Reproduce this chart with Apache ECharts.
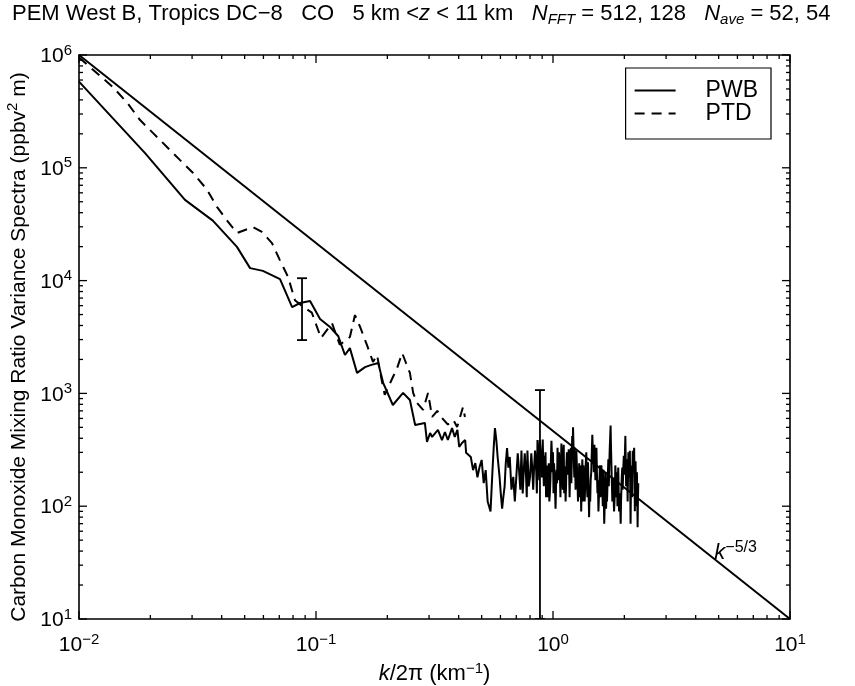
<!DOCTYPE html>
<html><head><meta charset="utf-8">
<script src="https://cdn.jsdelivr.net/npm/echarts@6/dist/echarts.min.js"></script>
<style>html,body{margin:0;padding:0;background:#fff}#c{width:855px;height:686px}</style>
</head><body><div id="c"></div>
<script>
const FONT = "'Liberation Sans', Arial, Helvetica, sans-serif";

// PWB spectrum [k/2pi (km^-1), spectral density]
const pwb = [
 [0.0100,580000],[0.0190,135000],[0.0280,52000],[0.0367,34000],[0.0464,19900],[0.0527,12900],
 [0.0597,12200],[0.0705,10300],[0.0793,5830],[0.0856,6330],[0.0944,6600],[0.1040,4570],
 [0.1146,3880],[0.1240,3230],[0.1325,2190],[0.1390,2520],[0.1490,1520],[0.1610,1710],
 [0.1700,1780],[0.1830,1860],[0.1920,1240],[0.2110,789],[0.2330,1010],[0.2490,873],
 [0.2620,525],[0.2880,547],[0.2940,371],[0.3030,446],[0.3090,411],[0.3270,474],
 [0.3400,386],[0.3500,455],[0.3600,386],[0.3750,493],[0.3850,411],[0.3950,474],
 [0.4020,335],[0.4130,363],[0.4260,386],[0.4300,297],[0.4500,273],[0.4600,209],
 [0.4700,241],[0.4800,180],[0.4900,223],[0.5000,257],[0.5100,160],[0.5200,209],[0.5300,110],[0.5450,90],
 [0.5550,200],[0.5620,330],[0.5690,493],[0.5770,380],[0.5840,273],[0.5950,182],[0.6020,130],[0.6100,95],[0.6170,120],[0.6250,150],
 [0.6320,240],[0.6400,328],[0.6480,220],[0.6570,273],[0.6680,140],[0.6800,182],[0.6900,110],[0.7000,180],[0.7100,295],
 [0.7200,200],[0.7280,140],[0.7360,312],[0.7450,130],[0.7520,200],[0.7600,295],[0.7700,180],[0.7750,120],[0.7800,312],
 [0.7900,150],[0.8000,182],[0.8100,295],[0.8180,210],[0.8250,140],[0.8320,220],[0.8400,312],[0.8500,200],
 [0.8550,130],[0.8600,386],[0.8700,250],[0.8750,170],[0.8800,386],
 [0.890,260],[0.8975,180],[0.905,390],[0.910,230],[0.915,150],[0.920,280],[0.925,185],[0.930,300],
 [0.935,120],[0.940,160],[0.945,230],[0.950,120],[0.955,165],[0.960,240],[0.965,110],[0.970,130],
 [0.975,170],[0.980,260],[0.985,380],[0.990,280],[0.995,200],[1.000,300],[1.005,130],[1.010,240],
 [1.015,185],[1.020,140],[1.025,95],[1.030,150],[1.035,210],[1.040,160],[1.045,330],[1.050,220],
 [1.055,170],[1.060,300],[1.065,250],[1.070,180],[1.075,120],[1.080,200],[1.085,360],[1.090,280],
 [1.095,190],[1.100,140],[1.105,280],[1.110,350],[1.115,130],[1.120,170],[1.125,225],[1.130,110],
 [1.135,150],[1.140,240],[1.145,300],[1.150,210],[1.155,190],[1.160,260],[1.165,320],[1.170,200],
 [1.175,120],[1.180,190],[1.185,260],[1.190,330],[1.195,160],[1.200,250],[1.205,420],[1.210,300],
 [1.215,500],[1.220,350],[1.225,240],[1.230,180],[1.235,330],[1.240,260],[1.245,140],[1.250,200],
 [1.255,310],[1.260,240],[1.265,200],[1.270,150],[1.275,110],[1.280,140],[1.285,180],[1.290,240],
 [1.295,120],[1.300,160],[1.305,230],[1.310,150],[1.315,90],[1.320,130],[1.325,200],[1.330,260],
 [1.335,150],[1.340,110],[1.345,230],[1.352,170],[1.360,110],[1.367,150],[1.375,240],[1.382,300],
 [1.390,160],[1.397,120],[1.405,245],[1.412,150],[1.420,80],[1.427,140],[1.435,110],[1.442,170],
 [1.450,200],[1.457,290],[1.465,430],[1.472,330],[1.480,280],[1.487,200],[1.495,350],[1.502,260],
 [1.510,170],[1.517,240],[1.525,330],[1.532,200],[1.540,130],[1.547,170],[1.555,90],[1.562,120],
 [1.570,165],[1.577,230],[1.585,120],[1.592,150],[1.600,230],[1.607,180],[1.615,140],[1.622,100],
 [1.630,210],[1.637,130],[1.645,70],[1.652,100],[1.660,140],[1.667,200],[1.675,95],[1.682,140],
 [1.690,110],[1.697,150],[1.705,200],[1.712,260],[1.720,150],[1.727,220],[1.735,320],[1.742,400],
 [1.750,520],[1.757,330],[1.765,220],[1.772,160],[1.780,110],[1.787,140],[1.795,180],[1.802,120],
 [1.810,90],[1.817,110],[1.825,140],[1.832,230],[1.840,190],[1.847,120],[1.855,160],[1.862,200],
 [1.870,100],[1.877,150],[1.885,220],[1.892,140],[1.900,90],[1.907,110],[1.915,130],[1.922,100],
 [1.930,70],[1.937,110],[1.945,150],[1.952,190],[1.960,220],[1.967,140],[1.975,180],[1.982,230],
 [1.990,280],[1.997,220],[2.005,190],[2.012,300],[2.020,420],[2.027,250],[2.035,150],[2.042,200],
 [2.050,260],[2.057,180],[2.065,110],[2.072,180],[2.080,300],[2.087,230],[2.095,180],[2.102,250],
 [2.110,310],[2.117,150],[2.125,70],[2.132,140],[2.140,230],[2.147,160],[2.155,120],[2.162,200],
 [2.170,310],[2.177,200],[2.185,250],[2.192,290],[2.200,330],[2.207,180],[2.215,90],[2.222,150],
 [2.230,250],[2.237,170],[2.245,100],[2.252,140],[2.260,200],[2.267,120],[2.275,65],[2.282,110],
 [2.290,160]
];

// PTD spectrum
const ptd = [
 [0.0100,950000],[0.0139,520000],[0.0160,375000],[0.0181,265000],[0.0205,204000],
 [0.0235,153000],[0.0267,117000],[0.0303,90000],[0.0347,64000],[0.0382,45000],
 [0.0420,34400],[0.0464,26400],[0.0542,29900],[0.0591,27000],[0.0652,21500],
 [0.0704,15200],[0.0762,10800],[0.0815,6700],[0.0873,5960],[0.0960,5200],
 [0.1050,3100],[0.1168,4200],[0.1260,2700],[0.1390,3160],[0.1460,4950],
 [0.1535,3880],[0.1640,2690],[0.1740,1900],[0.1810,2190],[0.1900,1260],
 [0.1950,970],[0.2060,1250],[0.2200,1680],[0.2310,2280],[0.2400,1850],
 [0.2490,1520],[0.2570,1010],[0.2670,822],[0.2830,713],[0.2970,1010],
 [0.3090,618],[0.3250,700],[0.3400,605],[0.3600,530],[0.3800,580],
 [0.3940,503],[0.4170,757],[0.4250,618]
];

// k^-5/3 reference line end points
const refLine = [[0.01, 1e6], [10, 10]];
const refLabelAt = [[4.7, 35]];

// error bars [k, low, high]
const errBars = [[0.0873, 2970, 10500], [0.881, 10, 1070]];

// axis ticks
const xMajorTicks = [0.01, 0.1, 1, 10];
const xMinorTicks = [0.02,0.03,0.04,0.05,0.06,0.07,0.08,0.09,0.2,0.3,0.4,0.5,0.6,0.7,0.8,0.9,2,3,4,5,6,7,8,9];
const yMajorTicks = [10, 100, 1000, 10000, 100000, 1000000];
const yMinorTicks = [20,30,40,50,60,70,80,90,200,300,400,500,600,700,800,900,
  2000,3000,4000,5000,6000,7000,8000,9000,20000,30000,40000,50000,60000,70000,80000,90000,
  200000,300000,400000,500000,600000,700000,800000,900000];

const seriesNames = ['PWB', 'PTD'];

function supLabel(v) {
  const e = Math.round(Math.log10(v));
  return '{b|10}{s|' + (e < 0 ? '\u2212' + (-e) : e) + '}';
}

const tickRich = {
  b: { fontSize: 21, lineHeight: 24, verticalAlign: 'bottom', fontFamily: FONT, color: '#000' },
  s: { fontSize: 15, lineHeight: 9, verticalAlign: 'top', fontFamily: FONT, color: '#000' }
};

const xTickData = xMajorTicks.map(v => [v, 100, 1]).concat(xMinorTicks.map(v => [v, 100, 0]));
const yTickData = yMajorTicks.map(v => [1, v, 1]).concat(yMinorTicks.map(v => [1, v, 0]));

const chart = echarts.init(document.getElementById('c'), null, { renderer: 'canvas' });
chart.setOption({
  animation: false,
  backgroundColor: '#fff',
  textStyle: { fontFamily: FONT, color: '#000' },
  title: {
    left: 7, top: -2,
    text: '{n|PEM West B, Tropics DC\u22128   CO   5 km <}{i|z}{n| < 11 km   }{i|N}{sub|FFT}{n| = 512, 128   }{i|N}{sub|ave}{n| = 52, 54}',
    textStyle: {
      fontSize: 22, fontWeight: 'normal', fontFamily: FONT, color: '#000',
      rich: {
        n: { fontSize: 22, lineHeight: 24, verticalAlign: 'top', fontFamily: FONT, color: '#000' },
        i: { fontSize: 22, lineHeight: 24, verticalAlign: 'top', fontStyle: 'italic', fontFamily: FONT, color: '#000' },
        sub: { fontSize: 15, lineHeight: 8, verticalAlign: 'bottom', fontStyle: 'italic', fontFamily: FONT, color: '#000' }
      }
    }
  },
  legend: {
    data: seriesNames,
    orient: 'vertical', align: 'left',
    right: 84, top: 68,
    padding: [11, 13, 14, 8],
    itemWidth: 41, itemHeight: 14, itemGap: 0,
    backgroundColor: '#fff',
    borderColor: '#000', borderWidth: 1.2, borderRadius: 0,
    itemStyle: { opacity: 0 },
    textStyle: { fontSize: 23, fontFamily: FONT, color: '#000', padding: [0, 0, 0, 25] }
  },
  grid: {
    left: 79, right: 65, top: 55, bottom: 67, outerBoundsMode: 'none', containLabel: false,
    show: true, borderColor: '#000', borderWidth: 1.6, backgroundColor: 'transparent'
  },
  xAxis: {
    type: 'log', logBase: 10, min: 0.01, max: 10,
    axisLine: { show: false }, axisTick: { show: false }, splitLine: { show: false },
    axisLabel: { formatter: supLabel, rich: tickRich, margin: 13 },
    name: '{i|k}{n|/2\u03c0 (km}{s|\u22121}{n|)}',
    nameLocation: 'middle', nameGap: 34,
    nameTextStyle: {
      rich: {
        i: { fontSize: 22, lineHeight: 24, verticalAlign: 'bottom', fontStyle: 'italic', fontFamily: FONT, color: '#000' },
        n: { fontSize: 22, lineHeight: 24, verticalAlign: 'bottom', fontFamily: FONT, color: '#000' },
        s: { fontSize: 15, lineHeight: 9, verticalAlign: 'top', fontFamily: FONT, color: '#000' }
      }
    }
  },
  yAxis: {
    type: 'log', logBase: 10, min: 10, max: 1e6,
    axisLine: { show: false }, axisTick: { show: false }, splitLine: { show: false },
    axisLabel: { formatter: supLabel, rich: tickRich, margin: 7 },
    name: '{n|Carbon Monoxide Mixing Ratio Variance Spectra (ppbv}{s|2}{n| m)}',
    nameLocation: 'middle', nameGap: 45, nameRotate: 90,
    nameTextStyle: {
      padding: [0, 20, 0, 0],
      rich: {
        n: { fontSize: 21, lineHeight: 24, verticalAlign: 'bottom', fontFamily: FONT, color: '#000' },
        s: { fontSize: 15, lineHeight: 9, verticalAlign: 'top', fontFamily: FONT, color: '#000' }
      }
    }
  },
  series: [
    {
      name: 'PWB', type: 'line', data: pwb, showSymbol: false, symbol: 'none',
      lineStyle: { color: '#000', width: 2, type: 'solid' }, itemStyle: { color: '#000' }, clip: true, z: 3
    },
    {
      name: 'PTD', type: 'line', data: ptd, showSymbol: false, symbol: 'none',
      lineStyle: { color: '#000', width: 2, type: [10, 7] }, itemStyle: { color: '#000' }, clip: true, z: 3
    },
    {
      name: 'ref', type: 'line', data: refLine, showSymbol: false, symbol: 'none',
      lineStyle: { color: '#000', width: 2 }, clip: true, z: 3
    },
    {
      name: 'refLabel', type: 'scatter', data: refLabelAt, symbolSize: 0,
      itemStyle: { opacity: 1, color: '#000' },
      label: {
        show: true, position: 'right', distance: 2, offset: [0, -6], color: '#000', opacity: 1,
        formatter: '{i|k}{s|\u22125/3}',
        rich: {
          i: { fontSize: 22, lineHeight: 24, verticalAlign: 'bottom', fontStyle: 'italic', fontFamily: FONT, color: '#000' },
          s: { fontSize: 16, lineHeight: 9, verticalAlign: 'top', fontFamily: FONT, color: '#000' }
        }
      }, z: 4
    },
    {
      name: 'err', type: 'custom', data: errBars, encode: { x: 0, y: [1, 2] }, z: 4, clip: true,
      renderItem: function (params, api) {
        const x = api.value(0);
        const lo = api.coord([x, api.value(1)]);
        const hi = api.coord([x, api.value(2)]);
        const w = 5;
        const st = { stroke: '#000', lineWidth: 1.8 };
        return { type: 'group', children: [
          { type: 'line', shape: { x1: lo[0], y1: lo[1], x2: hi[0], y2: hi[1] }, style: st },
          { type: 'line', shape: { x1: hi[0] - w, y1: hi[1], x2: hi[0] + w, y2: hi[1] }, style: st },
          { type: 'line', shape: { x1: lo[0] - w, y1: lo[1], x2: lo[0] + w, y2: lo[1] }, style: st }
        ]};
      }
    },
    {
      name: 'xticks', type: 'custom', data: xTickData, encode: { x: 0, y: 1 }, z: 5, silent: true,
      renderItem: function (params, api) {
        const p = api.coord([api.value(0), api.value(1)]);
        const cs = params.coordSys;
        const len = api.value(2) ? 8 : 4;
        const st = { stroke: '#000', lineWidth: 1.3 };
        const b = cs.y + cs.height, t = cs.y;
        return { type: 'group', children: [
          { type: 'line', shape: { x1: p[0], y1: b, x2: p[0], y2: b - len }, style: st },
          { type: 'line', shape: { x1: p[0], y1: t, x2: p[0], y2: t + len }, style: st }
        ]};
      }
    },
    {
      name: 'yticks', type: 'custom', data: yTickData, encode: { x: 0, y: 1 }, z: 5, silent: true,
      renderItem: function (params, api) {
        const p = api.coord([api.value(0), api.value(1)]);
        const cs = params.coordSys;
        const len = api.value(2) ? 8 : 4;
        const st = { stroke: '#000', lineWidth: 1.3 };
        const l = cs.x, r = cs.x + cs.width;
        return { type: 'group', children: [
          { type: 'line', shape: { x1: l, y1: p[1], x2: l + len, y2: p[1] }, style: st },
          { type: 'line', shape: { x1: r, y1: p[1], x2: r - len, y2: p[1] }, style: st }
        ]};
      }
    }
  ]
});
</script>
</body></html>
